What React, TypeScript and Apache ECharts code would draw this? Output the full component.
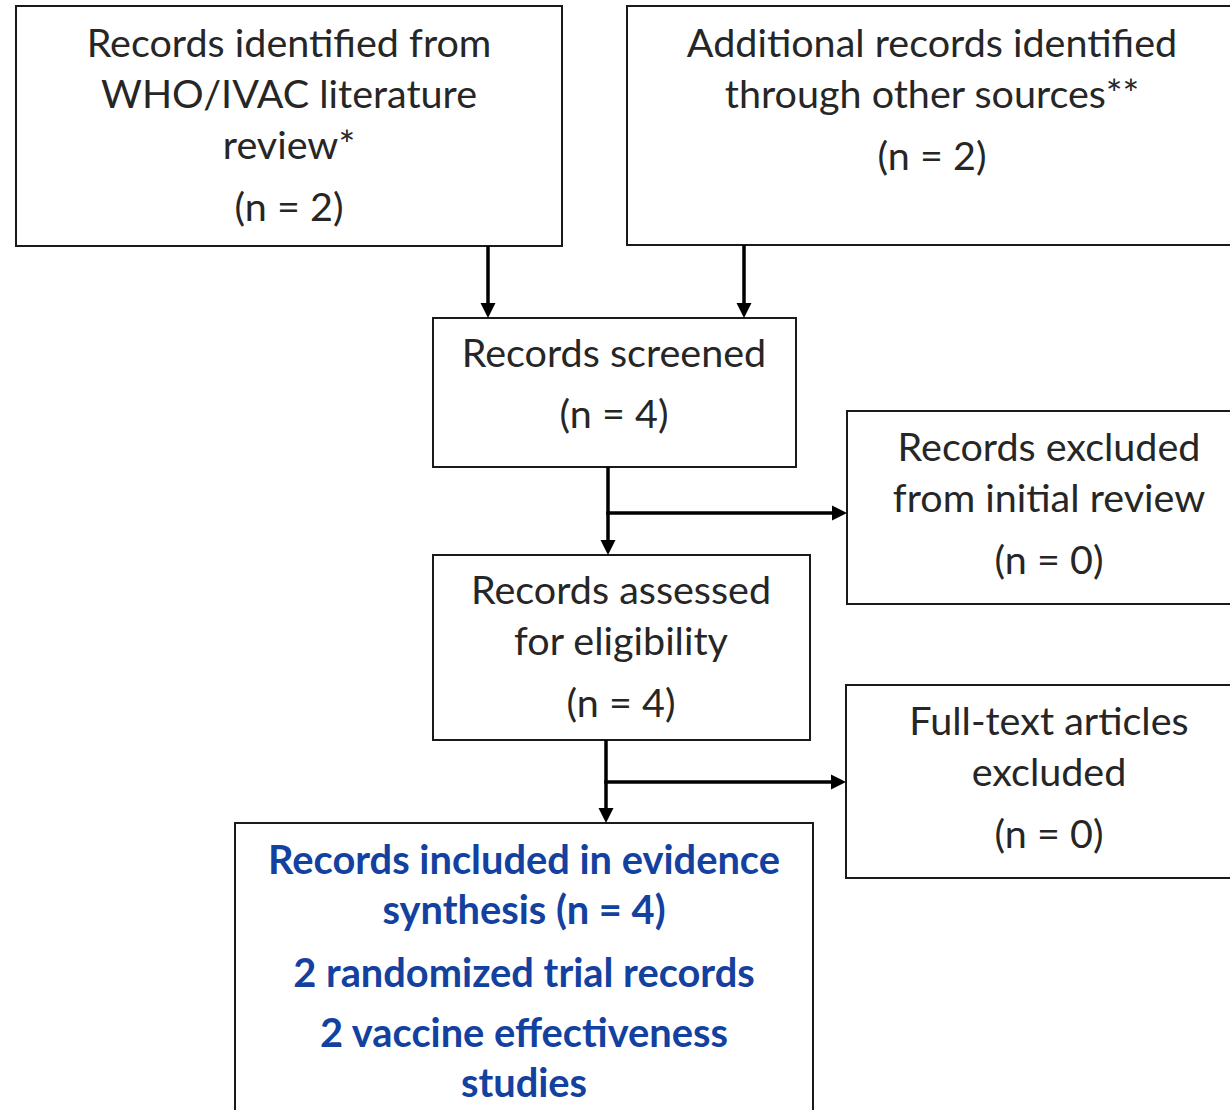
import React, { useEffect, useRef } from "react";
import * as echarts from "echarts";

// ---- content (text and counts) ----
const stageTitles: string[][] = [
  ["Records identified from", "WHO/IVAC literature", "review*"],
  ["Additional records identified", "through other sources**"],
  ["Records screened"],
  ["Records excluded", "from initial review"],
  ["Records assessed", "for eligibility"],
  ["Full-text articles", "excluded"],
];
const stageCounts: number[] = [2, 2, 4, 0, 4, 0];

const includedTitle: string[] = ["Records included in evidence", "synthesis"];
const includedCount = 4;
const includedBreakdownCounts: number[] = [2, 2];
const includedBreakdownLabels: string[][] = [
  ["randomized trial records"],
  ["vaccine effectiveness", "studies"],
];

// ---- layout (positions / sizes) ----
const BOXES = [
  { x: 16, y: 6, w: 546, h: 240, cx: 289, base: [58, 109, 160, 222] },
  { x: 627, y: 6, w: 640, h: 239, cx: 932, base: [58, 109, 171] },
  { x: 433, y: 318, w: 363, h: 149, cx: 614, base: [368, 429] },
  { x: 847, y: 411, w: 420, h: 193, cx: 1049, base: [462, 513, 575] },
  { x: 433, y: 555, w: 377, h: 185, cx: 621, base: [605, 656, 718] },
  { x: 846, y: 685, w: 420, h: 193, cx: 1049, base: [736, 787, 849] },
];
const FINAL_BOX = { x: 235, y: 823, w: 578, h: 320, cx: 524, base: [872, 922, 985, 1045, 1095] };

const ARROWS = [
  { x1: 488, y1: 246, x2: 488, y2: 318 },
  { x1: 744, y1: 245, x2: 744, y2: 318 },
  { x1: 608, y1: 467, x2: 608, y2: 555 },
  { x1: 608, y1: 513, x2: 847, y2: 513 },
  { x1: 606, y1: 740, x2: 606, y2: 823 },
  { x1: 606, y1: 782, x2: 846, y2: 782 },
];

const FONT = "Lato, 'Open Sans', sans-serif";
const FS = 39.5;
const FS_BOLD = 39.8;
const TEXT_COLOR = "#262626";
const BLUE = "#1341a0";
const BASE_OFF = 0.3; // baseline offset from middle, in em
const SHIFT = 5;
const SHIFT_BOLD = 1.5;

function textEl(t: string, cx: number, baseline: number, bold: boolean, color: string) {
  const fs = bold ? FS_BOLD : FS;
  return {
    type: "text",
    x: cx,
    y: baseline - BASE_OFF * fs - (bold ? SHIFT_BOLD : SHIFT),
    z: 10,
    style: {
      text: t,
      fill: color,
      fontFamily: FONT,
      fontSize: fs,
      fontWeight: bold ? "bold" : "normal",
      align: "center",
      verticalAlign: "middle",
      textAlign: "center",
      textVerticalAlign: "middle",
    },
  };
}

function arrowEls(a: { x1: number; y1: number; x2: number; y2: number }) {
  const head = 15;
  const half = 7.5;
  const vertical = a.x1 === a.x2;
  const els: any[] = [];
  if (vertical) {
    els.push({
      type: "line",
      shape: { x1: a.x1, y1: a.y1, x2: a.x2, y2: a.y2 - head + 1 },
      style: { stroke: "#000", lineWidth: 3.5 },
      z: 5,
    });
    els.push({
      type: "polygon",
      shape: { points: [[a.x2, a.y2], [a.x2 - half, a.y2 - head], [a.x2 + half, a.y2 - head]] },
      style: { fill: "#000" },
      z: 5,
    });
  } else {
    els.push({
      type: "line",
      shape: { x1: a.x1 - 1.75, y1: a.y1, x2: a.x2 - head + 1, y2: a.y2 },
      style: { stroke: "#000", lineWidth: 3.5 },
      z: 5,
    });
    els.push({
      type: "polygon",
      shape: { points: [[a.x2, a.y2], [a.x2 - head, a.y2 - half], [a.x2 - head, a.y2 + half]] },
      style: { fill: "#000" },
      z: 5,
    });
  }
  return els;
}

export default function App() {
  const ref = useRef<HTMLDivElement>(null);
  useEffect(() => {
    if (!ref.current) return;
    const chart = echarts.init(ref.current, null, { renderer: "svg" });
    const els: any[] = [];
    BOXES.forEach((b, i) => {
      els.push({
        type: "rect",
        shape: { x: b.x, y: b.y, width: b.w, height: b.h },
        style: { fill: "#fff", stroke: "#1a1a1a", lineWidth: 2 },
        z: 1,
      });
      const lines = [...stageTitles[i], `(n = ${stageCounts[i]})`];
      lines.forEach((t, j) => els.push(textEl(t, b.cx, b.base[j], false, TEXT_COLOR)));
    });
    const fb = FINAL_BOX;
    els.push({
      type: "rect",
      shape: { x: fb.x, y: fb.y, width: fb.w, height: fb.h },
      style: { fill: "#fff", stroke: "#1a1a1a", lineWidth: 2 },
      z: 1,
    });
    const finalLines = [
      includedTitle[0],
      `${includedTitle[1]} (n = ${includedCount})`,
    ];
    includedBreakdownLabels.forEach((lab, k) => {
      lab.forEach((l, m) => finalLines.push(m === 0 ? `${includedBreakdownCounts[k]} ${l}` : l));
    });
    finalLines.forEach((t, j) => els.push(textEl(t, fb.cx, fb.base[j], true, BLUE)));
    ARROWS.forEach((a) => els.push(...arrowEls(a)));

    chart.setOption({
      animation: false,
      backgroundColor: "#fff",
      graphic: { elements: els },
    });
    return () => chart.dispose();
  }, []);
  return (
    <div
      ref={ref}
      style={{ position: "fixed", left: 0, top: 0, width: 1230, height: 1110, background: "#fff" }}
    />
  );
}
